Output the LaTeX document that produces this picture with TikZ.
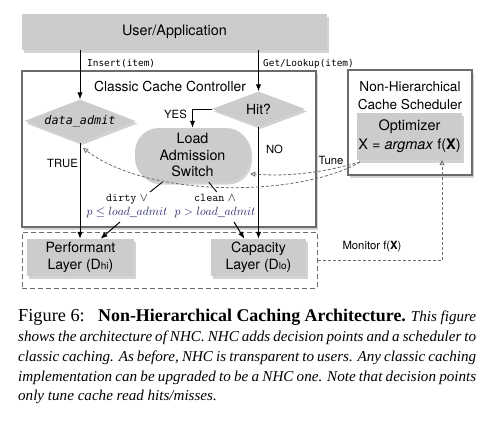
\documentclass[tikz,border=0pt]{standalone}
\usepackage[no-math]{fontspec}
\setmainfont{TeX Gyre Heros}
\newfontfamily\dvmono{DejaVu Sans Mono}
\newfontfamily\capfont{Liberation Serif}
\usetikzlibrary{shapes.geometric,arrows.meta,shadows}
\definecolor{boxgray}{gray}{0.8}
\definecolor{linegray}{gray}{0.42}
\definecolor{mathblue}{rgb}{0.14,0.14,0.4}
\newcommand\fsz[2]{\fontsize{#1}{#2}\selectfont}
\tikzset{
  shad/.style={drop shadow={shadow xshift=2pt,shadow yshift=-2.5pt,opacity=0.35}},
  gbox/.style={fill=boxgray, draw=none, shad, inner sep=0pt, align=center},
  cont/.style={draw=linegray, line width=1.2pt, fill=white, shad},
  dia/.style={diamond, fill=boxgray, draw=none, inner sep=0pt, aspect=2.6, shad},
  arr/.style={-{Latex[length=7pt,width=5.5pt]}, line width=1pt, black},
  plainln/.style={line width=0.9pt, black},
  tunearr/.style={dash pattern=on 3pt off 2pt, draw=linegray, line width=0.8pt, -{Triangle[open,length=5pt,width=5pt]}},
  monarr/.style={dash pattern=on 3pt off 2pt, draw=linegray, line width=0.9pt, -{Triangle[open,length=5pt,width=5pt]}},
  lbl/.style={inner sep=0pt, font=\fsz{11.3}{13}},
  mono/.style={inner sep=0pt, anchor=west, font=\dvmono\fsz{9.4}{11}},
}
\begin{document}
\begin{tikzpicture}[x=1pt,y=-1pt]
\useasboundingbox (0,0) rectangle (493,426);
% containers
\node[cont, minimum width=294pt, minimum height=156pt] (ccc) at (169,149) {};
\node[inner sep=0pt, font=\fsz{13.8}{16}] (ccct) at (170,86) {Classic Cache Controller};
\node[cont, minimum width=124pt, minimum height=105pt] (nhs) at (410,122.5) {};
\node[inner sep=0pt, align=center, font=\fsz{13.6}{17.5}] (nhst) at (410,95.5) {Non-Hierarchical\\Cache Scheduler};
\node[draw=linegray, dash pattern=on 5pt off 3pt, line width=1pt, minimum width=295pt, minimum height=56pt] (layers) at (169.5,260) {};
% boxes
\node[gbox, minimum width=305pt, minimum height=36pt, font=\fsz{14.4}{17}] (user) at (174.5,32) {User/Application};
\node[dia, minimum width=111pt, minimum height=43pt, font=\dvmono\itshape\fsz{11.8}{14}] (da) at (80,121) {data\_admit};
\node[dia, minimum width=93pt, minimum height=35pt, font=\fsz{14}{16}] (hit) at (258.5,109) {Hit?};
\node[gbox, rounded corners=24pt, minimum width=115pt, minimum height=54pt, font=\fsz{14.3}{16.5}] (sw) at (192.5,155) {Load\\Admission\\Switch};
\node[gbox, minimum width=105pt, minimum height=47pt, font=\fsz{14.5}{19}] (opt) at (409.5,136.5) {Optimizer\\X = \textit{argmax} f(\textbf{X})};
\node[gbox, minimum width=107pt, minimum height=37pt, font=\fsz{14.1}{17.5}] (perf) at (80.5,257.5) {Performant\\Layer (D{\fsz{10}{10}hi})};
\node[gbox, minimum width=95pt, minimum height=37pt, font=\fsz{14.1}{17.5}] (cap) at (258.5,257.5) {Capacity\\Layer (D{\fsz{10}{10}lo})};
% main arrows
\draw[arr] (user.south -| da.north) -- (da.north);
\node[mono] (ins) at (87,64) {Insert(item)};
\draw[arr] (user.south -| hit.north) -- (hit.north);
\node[mono] (get) at (263,64) {Get/Lookup(item)};
\draw[arr] (hit.west) -| (sw.north);
\node[lbl] (yes) at (175.5,114) {YES};
\draw[arr] (hit.south) -- (hit.south |- cap.north);
\node[lbl] (no) at (274.5,149) {NO};
\draw[arr] (da.south) -- (da.south |- perf.north);
\node[lbl] (true) at (62.5,163) {TRUE};
% switch outputs
\node[inner sep=0pt, align=center, font=\fsz{11.8}{14}] (dl) at (127,206) {\texttt{dirty} $\vee$\\\color{mathblue}$p \le load\_admit$};
\node[inner sep=0pt, align=center, font=\fsz{11.8}{14}] (cl) at (215,206) {\texttt{clean} $\wedge$\\\color{mathblue}$p > load\_admit$};
\coordinate (d1) at (150,192);
\coordinate (d2) at (120,222);
\coordinate (c1) at (216.7,192);
\coordinate (c2) at (234,222);
\draw[plainln] (sw.-138) -- (d1);
\draw[arr] (d2) -- (perf.43.5);
\draw[plainln] (sw.-59.4) -- (c1);
\draw[arr] (c2) -- (cap.127.6);
% tune
\coordinate (t0) at (360,162);
\coordinate (dtip) at (83,148);
\draw[tunearr] (t0) .. controls (325,172) and (290,177) .. (sw.-18);
\draw[tunearr] (t0) .. controls (300,197) and (150,199) .. (dtip);
\node[lbl] (tune) at (331,160) {Tune};
% monitor
\draw[monarr] (layers.east) -| ([xshift=32.5pt]opt.south);
\node[lbl] (mon) at (372,247) {Monitor f(\textbf{X})};
% caption
\node[anchor=north west, inner sep=0pt, text width=458pt, align=justify, font=\capfont] (caption) at (18,309)
{\makebox[80pt][l]{\fsz{18.3}{19.8}Figure\hspace{0.25em}6:}{\fsz{17.9}{19.8}\textbf{Non-Hierarchical\hspace{0.25em}Caching\hspace{0.25em}Architecture.}}\hfill{\fsz{15.1}{19.8}\itshape This\hspace{0.25em}figure}\linebreak
{\fsz{15.1}{19.8}\itshape shows the architecture of NHC. NHC adds decision points and a scheduler to\linebreak classic caching. As before, NHC is transparent to users. Any classic caching\linebreak implementation can be upgraded to be a NHC one. Note that decision points\linebreak only tune cache read hits/misses.\par}};
\end{tikzpicture}
\end{document}
